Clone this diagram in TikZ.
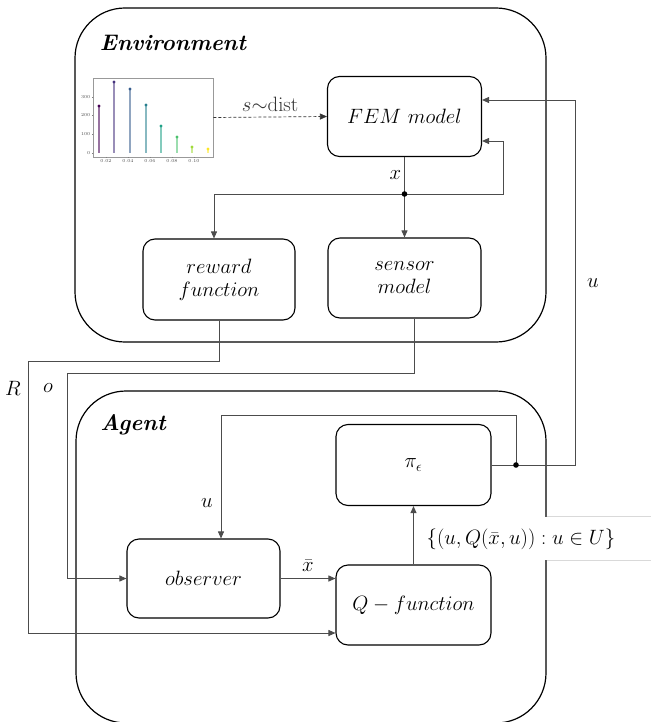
\documentclass[tikz,border=0pt]{standalone}
\usetikzlibrary{arrows.meta,calc}
\newcommand\lblfont{\fontsize{22}{26}\selectfont}
\newcommand\tickfont{\fontsize{4.5}{5}\selectfont}
\definecolor{vA}{HTML}{440154}
\definecolor{vB}{HTML}{46327E}
\definecolor{vC}{HTML}{365C8D}
\definecolor{vD}{HTML}{277F8E}
\definecolor{vE}{HTML}{1FA187}
\definecolor{vF}{HTML}{4AC16D}
\definecolor{vG}{HTML}{A0DA39}
\definecolor{vH}{HTML}{FDE725}
\begin{document}
\begin{tikzpicture}[x=1pt,y=-1pt,
  blk/.style={draw=black, line width=1.1pt, rounded corners=12pt, minimum width=154pt, minimum height=80pt, align=center, font=\lblfont, inner sep=0pt},
  bigbox/.style={draw=black, line width=1.2pt, rounded corners=50pt, inner sep=0pt},
  con/.style={draw=black!70, line width=0.9pt},
  arr/.style={con, -{Triangle[length=7pt,width=6pt]}},
  lbl/.style={font=\lblfont, inner sep=1pt},
  ttl/.style={font=\fontsize{22.5}{26}\selectfont\bfseries\itshape, inner sep=0pt},
  tick/.style={font=\tickfont, text=black!70, inner sep=0.5pt}]
\useasboundingbox (0,0) rectangle (650,722);
% containers
\node[bigbox, minimum width=471pt, minimum height=334pt] (env) at (310.5,175) {};
\node[bigbox, minimum width=470pt, minimum height=332pt] (agent) at (311,557) {};
\node[ttl] (envt) at (173,43) {Environment};
\node[ttl] (agt) at (133,425) {Agent};
% chart
\node[draw=black!40, line width=0.6pt, minimum width=120pt, minimum height=79pt, inner sep=0pt] (chart) at (153,117.5) {};
\foreach \yy/\tt in {153/0,134/100,115/200,97/300}{
  \draw[black!50, line width=0.4pt] (93,\yy) -- (91.5,\yy);
  \node[tick, anchor=east] at (91,\yy) {\tt};
}
\foreach \xx/\tt in {106/0.02,128/0.04,150/0.06,172/0.08,194/0.10}{
  \draw[black!50, line width=0.4pt] (\xx,157) -- (\xx,158.5);
  \node[tick, anchor=north] at (\xx,158.5) {\tt};
}
\foreach \xx/\yy/\cc in {99/106/vA,114/82/vB,130/89/vC,146/105/vD,161/126/vE,177/137/vF,192/147/vG,208/149/vH}{
  \draw[\cc!55, line width=1.2pt] (\xx,153) -- (\xx,\yy);
  \fill[\cc] (\xx,\yy) circle (1.6pt);
}
% blocks
\node[blk] (fem) at (404.5,116.5) {$FEM\ model$};
\node[blk, minimum width=152pt, minimum height=81pt] (reward) at (219,279.5) {$reward$\\[-3pt]$function$};
\node[blk, minimum width=153pt] (sensor) at (404.5,278) {$sensor$\\[-3pt]$model$};
\node[blk, minimum width=155pt, minimum height=81pt] (pi) at (413.5,465) {$\pi_\epsilon$};
\node[blk, minimum width=153pt, minimum height=79pt] (obs) at (203.5,578.5) {$observer$};
\node[blk, minimum width=155pt] (qf) at (413.5,605) {$Q - function$};
% junctions and corners
\coordinate (j1) at (404.5,194);
\coordinate (j2) at (516,465);
\coordinate (c1) at (575,465);
\coordinate (fb) at (503,194);
\coordinate (ut) at (516,415);
\coordinate (rc) at (28,361);
\coordinate (oc) at (67,373);
% environment connectors
\draw[arr, densely dashed, black!80, line width=0.7pt] (chart.east) -- (fem.west) node[lbl, midway, above=4pt] {$s{\sim}\mathrm{dist}$};
\draw[con] (fem.south) -- (j1) node[lbl, midway, left=2pt] {$x$};
\draw[arr] (j1) -| ($(reward.north)+(-5,0)$);
\draw[arr] (j1) -- (sensor.north);
\draw[arr] (j1) -- (fb) |- ($(fem.east)+(0,24.5)$);
\fill (j1) circle (2.8pt);
% agent-to-environment action
\draw[con] (pi.east) -- (j2);
\draw[arr] (j2) -- (c1) |- ($(fem.east)+(0,-16.5)$);
\node[lbl] (ulab) at (593,283) {$u$};
\draw[arr] (j2) -- (ut) -| ($(obs.north)+(17.5,0)$);
\node[lbl] (ulab2) at (207,503) {$u$};
\fill (j2) circle (2.8pt);
% reward and observation
\draw[arr] (reward.south) |- (rc) |- ($(qf.west)+(0,28)$);
\draw[arr] ($(sensor.south)+(9.5,0)$) |- (oc) |- (obs.west);
\node[lbl] (rlab) at (13,388) {$R$};
\node[lbl] (olab) at (48,388) {$o$};
% agent internals
\draw[arr] (obs.east) -- (obs.east -| qf.west) node[lbl, midway, above=6pt] {$\bar{x}$};
\node[fill=white, inner sep=0pt, minimum width=232pt, minimum height=43pt] (labbox) at (536,538.5) {};
\draw[black!15, line width=0.7pt] (labbox.north west -| agent.east) -- (labbox.north east);
\draw[black!15, line width=0.7pt] (labbox.south west -| agent.east) -- (labbox.south east);
\draw[arr] (qf.north) -- (pi.south);
\node[lbl] (qlab) at (521,539) {$\{(u,Q(\bar{x},u)) : u\in U\}$};
\end{tikzpicture}
\end{document}
